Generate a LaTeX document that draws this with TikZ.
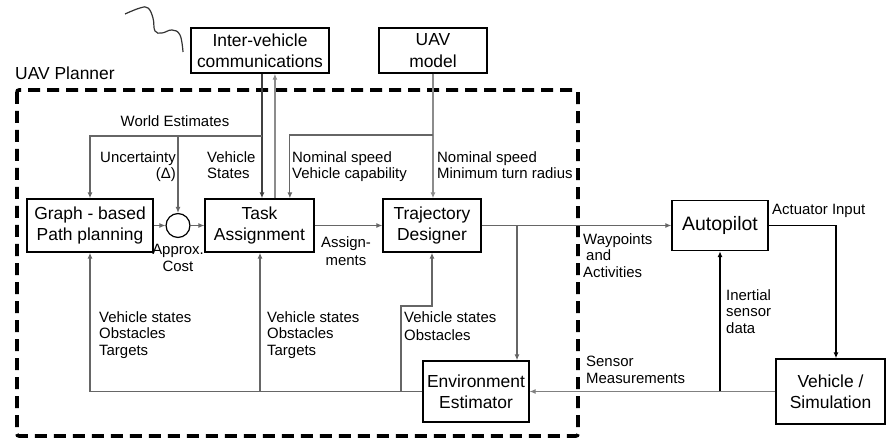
\documentclass[tikz,border=0pt]{standalone}
\usepackage{fontspec}
\setmainfont{Liberation Sans}
\usetikzlibrary{arrows.meta,calc}
\begin{document}
\begin{tikzpicture}[x=1bp,y=-1bp,
  box/.style={draw=black,line width=1.6bp,inner sep=0pt,align=center,
    font=\fontsize{17.5}{21.5}\selectfont},
  lbl/.style={inner sep=0pt,font=\fontsize{15}{16.5}\selectfont},
  tip/.style={-{Latex[length=6bp,width=5bp]}},
  flow/.style={tip,draw=black!60,line width=1.1bp},
  dark/.style={tip,draw=black!75,line width=1.5bp},
  light/.style={tip,draw=black!45,line width=1.3bp},
  heavy/.style={tip,draw=black,line width=1.9bp},
  frame/.style={draw=black,line width=3.6bp,dash pattern=on 12bp off 7bp,rounded corners=2bp}
]
\useasboundingbox (0,0) rectangle (888,439);

% planner boundary
\node[anchor=west,inner sep=0pt,font=\fontsize{17.5}{21.5}\selectfont] (plannerlbl) at (15,73) {UAV Planner};
\draw[frame] (17,90) rectangle (578,436);

% communication link symbol
\draw[black!80,line width=1.2bp] plot[smooth,tension=0.7] coordinates {(125,14) (140,8) (148,8) (153,18) (155,31) (162,33) (172,30) (180,35) (183,52)};

% blocks
\node[box,minimum width=138,minimum height=45] (comms) at (260,50.5) {Inter-vehicle\\communications};
\node[box,minimum width=108,minimum height=45] (model) at (433,50.5) {UAV\\model};
\node[box,minimum width=126,minimum height=53] (graph) at (90,225.5) {Graph - based\\Path planning};
\node[draw=black,line width=1.2bp,circle,minimum size=24,inner sep=0pt] (sum) at (178,225.5) {};
\node[box,minimum width=109,minimum height=53] (task) at (259.5,225.5) {Task\\Assignment};
\node[box,minimum width=98,minimum height=53] (traj) at (432,225.5) {Trajectory\\Designer};
\node[box,minimum width=106,minimum height=61] (env) at (476,391.5) {Environment\\Estimator};
\node[box,minimum width=96,minimum height=50,font=\fontsize{19.5}{23}\selectfont] (auto) at (720,225.5) {Autopilot};
\node[box,minimum width=109,minimum height=65] (veh) at (830.5,391.5) {Vehicle /\\Simulation};

% junction points
\coordinate (wj) at (262,136);
\coordinate (mj) at (433,135);
\coordinate (oj) at (517,225.5);
\coordinate (tj) at (260,391.5);
\coordinate (ej) at (401,391.5);
\coordinate (ij) at (720,391.5);

% world estimates from communications
\draw[dark] ([xshift=2]comms.south) -- ([xshift=2]comms.south |- task.north);
\draw[flow] (wj) -| (graph.north);
\draw[flow] (wj -| sum.north) -- (sum.north);
\draw[light] ([xshift=15.5]task.north) -- ([xshift=15.5]task.north |- comms.south);

% vehicle model data
\draw[light] (model.south) -- (model.south |- traj.north);
\draw[flow] (mj) -| ([xshift=30.5]task.north);

% planning chain
\draw[flow] (graph.east) -- (sum.west);
\draw[flow] (sum.east) -- (task.west);
\draw[flow] (task.east) -- (traj.west);
\draw[flow] (traj.east) -- (auto.west);
\draw[flow] (oj) -- (oj |- env.north);

% estimator feedback
\draw[flow] (env.west) -| (graph.south);
\draw[flow] (tj) -- (tj |- task.south);
\draw[flow] (ej) -- ++(0,-85.5) -| (traj.south);
\draw[flow,draw=black!50] (veh.west) -- (env.east);

% vehicle loop
\draw[heavy] (ij) -- (auto.south);
\draw[heavy] (auto.east) -| ([xshift=5.5]veh.north);

% labels
\node[lbl] (l-world) at (175,121) {World Estimates};
\node[lbl,anchor=north east,align=right] (l-unc) at (176,151.5) {Uncertainty\\(Δ)};
\node[lbl,anchor=north west,align=left] (l-vs) at (207,151.5) {Vehicle\\States};
\node[lbl,anchor=north west,align=left] (l-nom1) at (292,151.5) {Nominal speed\\Vehicle capability};
\node[lbl,anchor=north west,align=left] (l-nom2) at (437,151.5) {Nominal speed\\Minimum turn radius};
\node[lbl,anchor=north,align=center] (l-cost) at (178,244.5) {Approx.\\Cost};
\node[lbl,anchor=north,align=center,font=\fontsize{15}{18.5}\selectfont] (l-assign) at (346,236.5) {Assign-\\ments};
\node[lbl,anchor=north west,align=left] (l-ob1) at (99,311.5) {Vehicle states\\Obstacles\\Targets};
\node[lbl,anchor=north west,align=left] (l-ob2) at (267,311.5) {Vehicle states\\Obstacles\\Targets};
\node[lbl,anchor=north west,align=left,font=\fontsize{15}{18}\selectfont] (l-ob3) at (404,311.5) {Vehicle states\\Obstacles};
\node[lbl,anchor=north west,align=left] (l-way) at (583,233.5) {Waypoints\\\hspace{3bp}and\\Activities};
\node[lbl,anchor=north west,align=left] (l-sens) at (586,356) {Sensor\\Measurements};
\node[lbl,anchor=north west,align=left] (l-iner) at (726,289.5) {Inertial\\sensor\\data};
\node[lbl,anchor=west] (l-act) at (772,211) {Actuator Input};
\end{tikzpicture}
\end{document}
